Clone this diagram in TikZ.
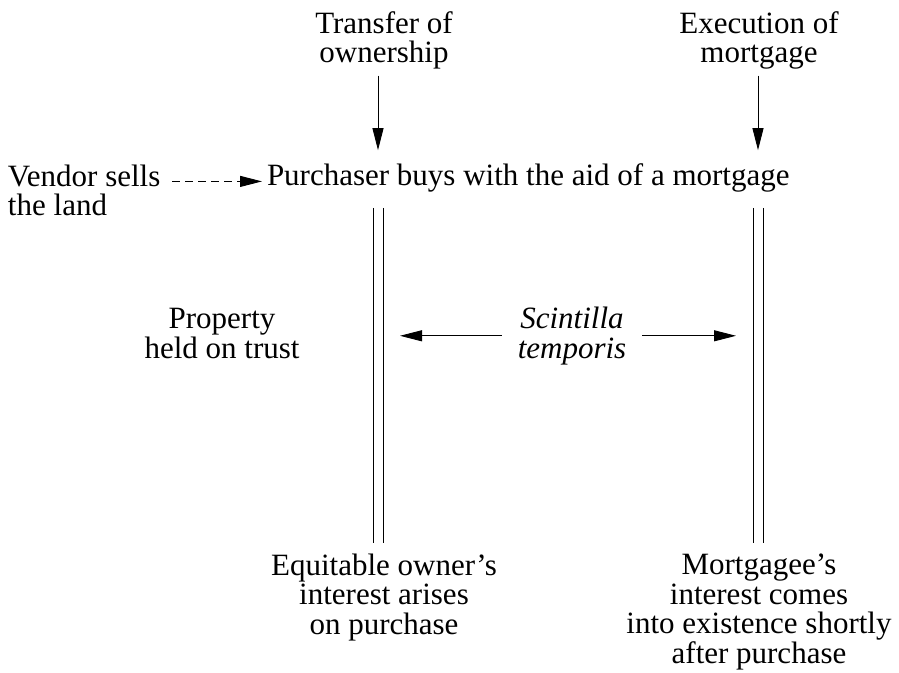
\documentclass[tikz,border=0pt]{standalone}
\usepackage{fontspec}
\setmainfont{Liberation Serif}
\usetikzlibrary{arrows.meta}
\tikzset{
  lbl/.style={inner sep=0pt, outer sep=0pt, align=center,
              font=\fontsize{15.5}{14.75}\selectfont},
  arr/.style={-{Triangle[length=11pt,width=5.5pt]}, line width=0.45pt},
  dasharr/.style={arr, dash pattern=on 3.8pt off 2.7pt},
  railline/.style={draw=black, line width=0.5pt},
}
\begin{document}
\begin{tikzpicture}[x=0.5pt,y=-0.5pt]
\useasboundingbox (0,0) rectangle (899,673);

% event labels along the top (base = baseline of the last line)
\node[lbl, anchor=base] (transfer)  at (384,63) {Transfer of\\ownership};
\node[lbl, anchor=base] (execution) at (759,63) {Execution of\\mortgage};

% the sale
\node[lbl, anchor=base west] (purch) at (267,186) {Purchaser buys with the aid of a mortgage};
\node[lbl, anchor=base west, align=left] (vendor) at (8,216) {Vendor sells\\the land};

% the two interests, each drawn as a pair of thin rails
\coordinate (railLtop) at (378,208);
\coordinate (railLbot) at (378,543);
\coordinate (railRtop) at (758,208);
\coordinate (railRbot) at (758,543);
\foreach \side in {L,R}{
  \draw[railline] ([xshift=-2.5pt]rail\side top) -- ([xshift=-2.5pt]rail\side bot);
  \draw[railline] ([xshift=2.5pt]rail\side top) -- ([xshift=2.5pt]rail\side bot);
}

% middle row
\node[lbl, anchor=base] (trust) at (222,358) {Property\\held on trust};
\node[lbl, anchor=base, font=\fontsize{15.5}{14.75}\selectfont\itshape] (scint) at (572,358) {Scintilla\\temporis};

% outcomes at the bottom, top lines level
\node[lbl, anchor=base] (equit) at (384,634) {Equitable owner's\\interest arises\\on purchase};
\node[lbl, anchor=base] (mortg) at (759,663) {Mortgagee's\\interest comes\\into existence shortly\\after purchase};

% connectors
\draw[arr, shorten <=3pt, shorten >=7pt] (transfer.south -| railLtop) -- (railLtop |- purch.north);
\draw[arr, shorten <=3pt, shorten >=7pt] (execution.south -| railRtop) -- (railRtop |- purch.north);
\draw[dasharr, shorten <=6pt, shorten >=2.5pt] (vendor.east |- purch.mid) -- (purch.mid west);
\draw[arr, shorten <=8pt, shorten >=11pt] (scint.west) -- (scint.west -| railLtop);
\draw[arr, shorten <=8pt, shorten >=11pt] (scint.east) -- (scint.east -| railRtop);
\end{tikzpicture}
\end{document}
